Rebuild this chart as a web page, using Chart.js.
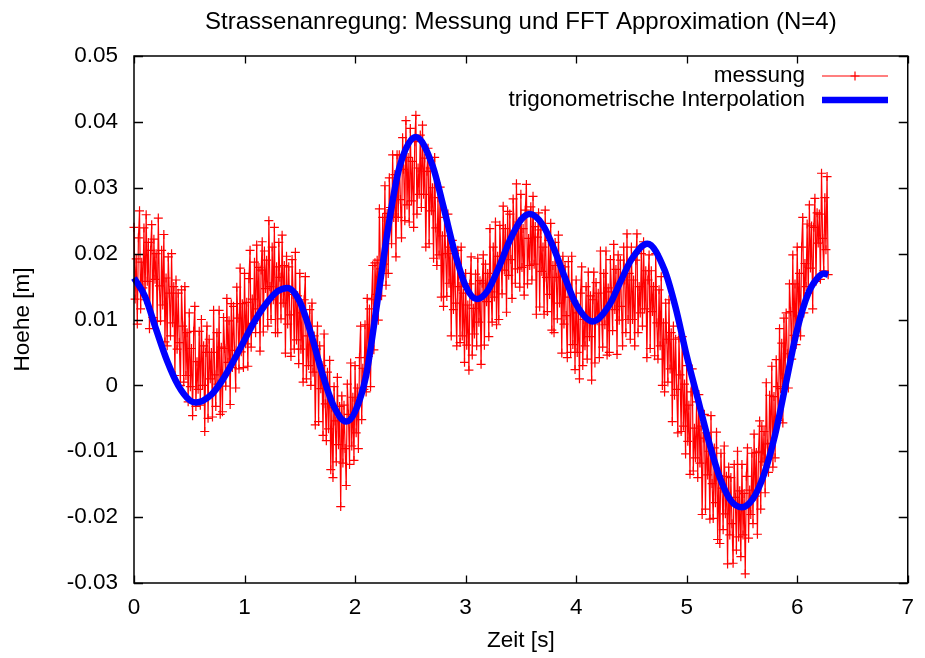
<!DOCTYPE html>
<html>
<head>
<meta charset="utf-8">
<script src="https://cdn.jsdelivr.net/npm/chart.js@4"></script>
<style>
  html, body { margin: 0; padding: 0; background: #ffffff; }
  canvas { display: block; }
</style>
</head>
<body>
<canvas id="c" width="925" height="658"></canvas>
<script>
// ---- texts ----
const chartTitle = 'Strassenanregung: Messung und FFT Approximation (N=4)';
const xAxisLabel = 'Zeit [s]';
const yAxisLabel = 'Hoehe [m]';
const measLabel = 'messung';
const fitLabel = 'trigonometrische Interpolation';

// ---- axes ----
const xTicks = [0, 1, 2, 3, 4, 5, 6, 7];
const yTicks = [-0.03, -0.02, -0.01, 0, 0.01, 0.02, 0.03, 0.04, 0.05];

// ---- measurement (sampled every measStep seconds, starting at 0 s) ----
const measStep = 0.01;
const measHeight = [
  0.0240, 0.0131, 0.0192, 0.0093, 0.0224, 0.0265, 0.0116, 0.0187, 0.0148, 0.0239,
  0.0130, 0.0259, 0.0158, 0.0217, 0.0086, 0.0205, 0.0244, 0.0103, 0.0222, 0.0161,
  0.0200, 0.0097, 0.0254, 0.0151, 0.0098, 0.0205, 0.0122, 0.0229, 0.0066, 0.0163,
  0.0060, 0.0195, 0.0140, 0.0075, 0.0200, 0.0095, 0.0150, 0.0015, 0.0160, 0.0055,
  0.0140, 0.0065, 0.0000, 0.0145, 0.0090, 0.0005, 0.0150, 0.0015, 0.0080, -0.0025,
  0.0110, -0.0002, 0.0056, -0.0046, 0.0082, 0.0120, -0.0032, 0.0036, -0.0006, 0.0082,
  -0.0030, 0.0100, 0.0000, 0.0060, -0.0070, 0.0050, 0.0090, -0.0050, 0.0070, 0.0010,
  0.0050, -0.0048, 0.0114, 0.0016, -0.0032, 0.0080, 0.0002, 0.0114, -0.0044, 0.0058,
  -0.0040, 0.0103, 0.0056, -0.0001, 0.0132, 0.0035, 0.0098, -0.0029, 0.0124, 0.0027,
  0.0120, 0.0053, -0.0004, 0.0149, 0.0102, 0.0025, 0.0178, 0.0051, 0.0124, 0.0027,
  0.0170, 0.0063, 0.0126, 0.0029, 0.0162, 0.0205, 0.0058, 0.0131, 0.0094, 0.0187,
  0.0080, 0.0213, 0.0116, 0.0179, 0.0052, 0.0175, 0.0218, 0.0081, 0.0204, 0.0147,
  0.0190, 0.0090, 0.0250, 0.0150, 0.0100, 0.0210, 0.0130, 0.0240, 0.0080, 0.0180,
  0.0080, 0.0217, 0.0164, 0.0101, 0.0228, 0.0125, 0.0182, 0.0049, 0.0196, 0.0093,
  0.0180, 0.0107, 0.0044, 0.0191, 0.0138, 0.0055, 0.0202, 0.0069, 0.0136, 0.0033,
  0.0170, 0.0055, 0.0110, 0.0005, 0.0130, 0.0165, 0.0010, 0.0075, 0.0030, 0.0115,
  0.0000, 0.0125, 0.0020, 0.0075, -0.0060, 0.0055, 0.0090, -0.0055, 0.0060, -0.0005,
  0.0030, -0.0076, 0.0078, -0.0028, -0.0084, 0.0020, -0.0066, 0.0038, -0.0128, -0.0034,
  -0.0140, -0.0002, -0.0054, -0.0116, 0.0012, -0.0090, -0.0032, -0.0184, -0.0016, -0.0118,
  -0.0030, -0.0096, -0.0152, 0.0002, -0.0044, -0.0120, 0.0034, -0.0092, -0.0018, -0.0114,
  0.0030, -0.0072, -0.0004, -0.0096, 0.0042, 0.0090, -0.0052, 0.0026, -0.0006, 0.0092,
  -0.0010, 0.0132, 0.0044, 0.0116, -0.0002, 0.0130, 0.0182, 0.0054, 0.0186, 0.0138,
  0.0190, 0.0099, 0.0268, 0.0177, 0.0136, 0.0255, 0.0184, 0.0303, 0.0152, 0.0261,
  0.0170, 0.0315, 0.0270, 0.0215, 0.0350, 0.0255, 0.0320, 0.0195, 0.0350, 0.0255,
  0.0350, 0.0282, 0.0224, 0.0376, 0.0328, 0.0250, 0.0402, 0.0274, 0.0346, 0.0248,
  0.0390, 0.0280, 0.0340, 0.0240, 0.0370, 0.0410, 0.0260, 0.0330, 0.0290, 0.0380,
  0.0270, 0.0395, 0.0290, 0.0345, 0.0210, 0.0325, 0.0360, 0.0215, 0.0330, 0.0265,
  0.0300, 0.0193, 0.0346, 0.0239, 0.0182, 0.0285, 0.0198, 0.0301, 0.0134, 0.0227,
  0.0120, 0.0255, 0.0200, 0.0135, 0.0260, 0.0155, 0.0210, 0.0075, 0.0220, 0.0115,
  0.0200, 0.0125, 0.0060, 0.0205, 0.0150, 0.0065, 0.0210, 0.0075, 0.0140, 0.0035,
  0.0170, 0.0061, 0.0122, 0.0023, 0.0154, 0.0195, 0.0046, 0.0117, 0.0078, 0.0169,
  0.0060, 0.0193, 0.0096, 0.0159, 0.0032, 0.0155, 0.0198, 0.0061, 0.0184, 0.0127,
  0.0170, 0.0074, 0.0238, 0.0142, 0.0096, 0.0210, 0.0134, 0.0248, 0.0092, 0.0196,
  0.0100, 0.0243, 0.0196, 0.0139, 0.0272, 0.0175, 0.0238, 0.0111, 0.0264, 0.0167,
  0.0260, 0.0191, 0.0132, 0.0283, 0.0234, 0.0155, 0.0306, 0.0177, 0.0248, 0.0149,
  0.0290, 0.0179, 0.0238, 0.0137, 0.0266, 0.0305, 0.0154, 0.0223, 0.0182, 0.0271,
  0.0160, 0.0287, 0.0184, 0.0241, 0.0108, 0.0225, 0.0262, 0.0119, 0.0236, 0.0173,
  0.0210, 0.0108, 0.0266, 0.0164, 0.0112, 0.0220, 0.0138, 0.0246, 0.0084, 0.0182,
  0.0080, 0.0217, 0.0164, 0.0101, 0.0228, 0.0125, 0.0182, 0.0049, 0.0196, 0.0093,
  0.0180, 0.0106, 0.0042, 0.0188, 0.0134, 0.0050, 0.0196, 0.0062, 0.0128, 0.0024,
  0.0160, 0.0050, 0.0110, 0.0010, 0.0140, 0.0180, 0.0030, 0.0100, 0.0060, 0.0150,
  0.0040, 0.0172, 0.0074, 0.0136, 0.0008, 0.0130, 0.0172, 0.0034, 0.0156, 0.0098,
  0.0140, 0.0042, 0.0204, 0.0106, 0.0058, 0.0170, 0.0092, 0.0204, 0.0046, 0.0148,
  0.0050, 0.0191, 0.0142, 0.0083, 0.0214, 0.0115, 0.0176, 0.0047, 0.0198, 0.0099,
  0.0190, 0.0120, 0.0060, 0.0210, 0.0160, 0.0080, 0.0230, 0.0100, 0.0170, 0.0070,
  0.0210, 0.0100, 0.0160, 0.0060, 0.0190, 0.0230, 0.0080, 0.0150, 0.0110, 0.0200,
  0.0090, 0.0218, 0.0116, 0.0174, 0.0042, 0.0160, 0.0198, 0.0056, 0.0174, 0.0112,
  0.0150, 0.0045, 0.0200, 0.0095, 0.0040, 0.0145, 0.0060, 0.0165, 0.0000, 0.0095,
  -0.0010, 0.0125, 0.0070, 0.0005, 0.0130, 0.0025, 0.0080, -0.0055, 0.0090, -0.0015,
  0.0070, -0.0006, -0.0072, 0.0072, 0.0016, -0.0070, 0.0074, -0.0062, 0.0002, -0.0104,
  0.0030, -0.0085, -0.0030, -0.0135, -0.0010, 0.0025, -0.0130, -0.0065, -0.0110, -0.0025,
  -0.0140, -0.0014, -0.0118, -0.0062, -0.0196, -0.0080, -0.0044, -0.0188, -0.0072, -0.0136,
  -0.0100, -0.0203, -0.0046, -0.0149, -0.0202, -0.0095, -0.0178, -0.0071, -0.0234, -0.0137,
  -0.0240, -0.0103, -0.0156, -0.0219, -0.0092, -0.0195, -0.0138, -0.0271, -0.0124, -0.0227,
  -0.0140, -0.0210, -0.0270, -0.0120, -0.0170, -0.0250, -0.0100, -0.0230, -0.0160, -0.0260,
  -0.0120, -0.0227, -0.0164, -0.0286, -0.0138, -0.0095, -0.0232, -0.0159, -0.0196, -0.0103,
  -0.0210, -0.0074, -0.0168, -0.0102, -0.0226, -0.0100, -0.0054, -0.0188, -0.0062, -0.0116,
  -0.0070, -0.0163, 0.0004, -0.0089, -0.0132, -0.0015, -0.0088, 0.0029, -0.0124, -0.0017,
  -0.0110, 0.0039, -0.0002, -0.0053, 0.0086, -0.0005, 0.0064, -0.0057, 0.0102, 0.0011,
  0.0110, 0.0048, -0.0004, 0.0154, 0.0112, 0.0040, 0.0198, 0.0076, 0.0154, 0.0062,
  0.0210, 0.0105, 0.0170, 0.0075, 0.0210, 0.0255, 0.0110, 0.0185, 0.0150, 0.0245,
  0.0140, 0.0274, 0.0178, 0.0242, 0.0116, 0.0240, 0.0284, 0.0158, 0.0262, 0.0216,
  0.0260, 0.0161, 0.0322, 0.0223, 0.0174, 0.0285, 0.0206, 0.0317, 0.0168
];

// ---- trigonometric interpolation ----
const fitTime = [
  0, 0.1, 0.2, 0.3, 0.4, 0.5, 0.56, 0.7, 0.8, 0.9,
  1.0, 1.1, 1.2, 1.3, 1.39, 1.5, 1.6, 1.7, 1.8, 1.92,
  2.0, 2.1, 2.2, 2.3, 2.4, 2.55, 2.7, 2.8, 2.9, 3.0,
  3.1, 3.2, 3.3, 3.4, 3.5, 3.58, 3.7, 3.8, 3.9, 4.0,
  4.15, 4.3, 4.4, 4.5, 4.645, 4.8, 4.9, 5.0, 5.1, 5.2,
  5.3, 5.4, 5.5, 5.6, 5.7, 5.8, 5.9, 6.0, 6.1, 6.2,
  6.24, 6.28
];
const fitHeight = [
  0.0163, 0.0135, 0.0085, 0.0037, 0.0000, -0.0022, -0.0026, -0.0014, 0.0008, 0.0037,
  0.0069, 0.0100, 0.0125, 0.0143, 0.0148, 0.0127, 0.0079, 0.0020, -0.0029, -0.0055,
  -0.0040, 0.0015, 0.0125, 0.0240, 0.0330, 0.0377, 0.0334, 0.0271, 0.0203, 0.0151,
  0.0131, 0.0144, 0.0179, 0.0220, 0.0251, 0.0260, 0.0243, 0.0207, 0.0163, 0.0123,
  0.0097, 0.0122, 0.0157, 0.0191, 0.0215, 0.0175, 0.0118, 0.0045, -0.0020, -0.0085,
  -0.0140, -0.0175, -0.0185, -0.0172, -0.0135, -0.0075, 0.0005, 0.0085, 0.0140, 0.0166,
  0.0170, 0.0168
];

// ---- build library data from the arrays ----
const measData = measHeight.map((h, i) => ({ x: +(i * measStep).toFixed(2), y: h }));
const fitData = fitTime.map((t, i) => ({ x: t, y: fitHeight[i] }));

const FONT = 'Liberation Sans, Arial, Helvetica, sans-serif';
const RED = 'rgb(255,0,0)';
const BLUE = 'rgb(0,0,255)';

const decorPlugin = {
  id: 'decor',
  afterDatasetsDraw(chart) {
    const ctx = chart.ctx;
    const a = chart.chartArea;
    const xs = chart.scales.x, ys = chart.scales.y;
    ctx.save();
    // frame
    ctx.strokeStyle = '#000';
    ctx.lineWidth = 1.5;
    ctx.strokeRect(a.left, a.top, a.right - a.left, a.bottom - a.top);
    // inward ticks on all four sides
    ctx.lineWidth = 1.3;
    ctx.beginPath();
    xTicks.forEach(v => {
      const px = Math.round(xs.getPixelForValue(v)) + 0.5;
      ctx.moveTo(px, a.bottom); ctx.lineTo(px, a.bottom - 7.5);
      ctx.moveTo(px, a.top); ctx.lineTo(px, a.top + 7.5);
    });
    yTicks.forEach(v => {
      const py = Math.round(ys.getPixelForValue(v)) + 0.5;
      ctx.moveTo(a.left, py); ctx.lineTo(a.left + 9, py);
      ctx.moveTo(a.right, py); ctx.lineTo(a.right - 9, py);
    });
    ctx.stroke();

    // title
    ctx.fillStyle = '#000';
    ctx.font = '24px ' + FONT;
    ctx.textAlign = 'center';
    ctx.textBaseline = 'alphabetic';
    ctx.fillText(chartTitle, (a.left + a.right) / 2, 28.5);

    // legend (top right, gnuplot style)
    const ds = chart.data.datasets;
    ctx.font = '22.5px ' + FONT;
    ctx.textAlign = 'right';
    const textRight = 805, sx0 = 822, sx1 = 888;
    const rows = [82, 106];
    ds.forEach((d, i) => {
      const base = rows[i];
      ctx.fillStyle = '#000';
      ctx.fillText(d.label, textRight, base);
      const ly = base - 6;
      ctx.strokeStyle = d.borderColor;
      ctx.lineWidth = d.borderWidth;
      ctx.beginPath();
      ctx.moveTo(sx0, ly); ctx.lineTo(sx1, ly);
      ctx.stroke();
      if (d.pointRadius > 0) {
        const cx = (sx0 + sx1) / 2, r = d.pointRadius;
        ctx.lineWidth = d.pointBorderWidth;
        ctx.beginPath();
        ctx.moveTo(cx - r, ly); ctx.lineTo(cx + r, ly);
        ctx.moveTo(cx, ly - r); ctx.lineTo(cx, ly + r);
        ctx.stroke();
      }
    });
    ctx.restore();
  }
};

new Chart(document.getElementById('c'), {
  type: 'line',
  data: {
    datasets: [
      {
        label: measLabel,
        data: measData,
        borderColor: RED,
        backgroundColor: RED,
        borderWidth: 1.2,
        pointStyle: 'cross',
        pointRadius: 4.5,
        pointBorderWidth: 1.2,
        pointBorderColor: RED,
        pointBackgroundColor: RED,
        pointHoverRadius: 4.5,
        tension: 0,
        fill: false,
        clip: false,
        order: 1
      },
      {
        label: fitLabel,
        data: fitData,
        borderColor: BLUE,
        backgroundColor: BLUE,
        borderWidth: 6.5,
        pointRadius: 0,
        pointHoverRadius: 0,
        cubicInterpolationMode: 'monotone',
        fill: false,
        clip: false,
        order: 0
      }
    ]
  },
  options: {
    responsive: false,
    animation: false,
    devicePixelRatio: 1,
    events: [],
    layout: { padding: { top: 56, right: 8, left: 0, bottom: 0 } },
    plugins: {
      legend: { display: false },
      title: { display: false },
      tooltip: { enabled: false }
    },
    scales: {
      x: {
        type: 'linear',
        min: xTicks[0],
        max: xTicks[xTicks.length - 1],
        afterBuildTicks: s => { s.ticks = xTicks.map(v => ({ value: v })); },
        afterFit: s => { s.height = 75; },
        grid: { display: false, drawTicks: false },
        border: { display: false },
        ticks: {
          color: '#000',
          font: { family: FONT, size: 22.5 },
          padding: 11,
          maxRotation: 0,
          callback: v => String(v)
        },
        title: {
          display: true,
          text: xAxisLabel,
          color: '#000',
          font: { family: FONT, size: 22.5 },
          padding: { top: 0, bottom: 3.5 }
        }
      },
      y: {
        type: 'linear',
        min: yTicks[0],
        max: yTicks[yTicks.length - 1],
        afterBuildTicks: s => { s.ticks = yTicks.map(v => ({ value: v })); },
        afterFit: s => { s.width = 134; },
        grid: { display: false, drawTicks: false },
        border: { display: false },
        ticks: {
          color: '#000',
          font: { family: FONT, size: 22.5 },
          padding: 16,
          callback: v => String(+v.toFixed(2))
        },
        title: {
          display: true,
          text: yAxisLabel,
          color: '#000',
          font: { family: FONT, size: 22.5 },
          padding: { top: 9.5, bottom: 0 }
        }
      }
    }
  },
  plugins: [decorPlugin]
});
</script>
</body>
</html>
